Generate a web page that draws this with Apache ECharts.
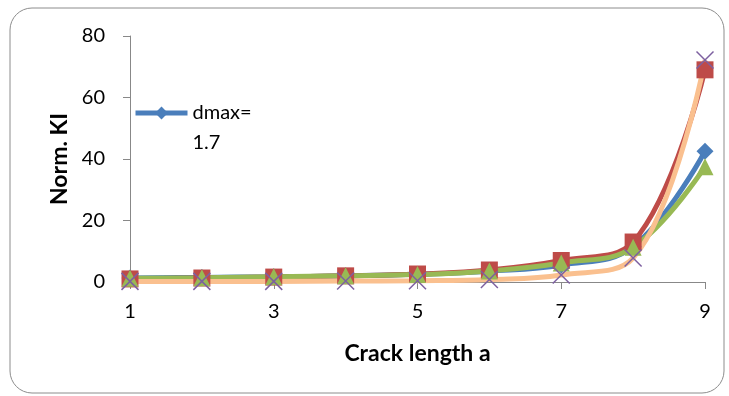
<!DOCTYPE html>
<html><head><meta charset="utf-8">
<script src="https://cdn.jsdelivr.net/npm/echarts@6/dist/echarts.min.js"></script>
<style>html,body{margin:0;padding:0;background:#fff}#c{width:729px;height:396px}</style>
</head><body><div id="c"></div>
<script>
var categories = ['1','2','3','4','5','6','7','8','9'];
var seriesNames = ['dmax=\n1.7', 's2', 's3', 's4'];
var blueValues   = [1.3, 1.5, 1.7, 2.0, 2.5, 3.5, 5.5, 11.5, 42.5];
var redValues    = [1.0, 1.3, 1.6, 2.0, 2.6, 3.9, 7.0, 13.0, 69.0];
var greenValues  = [1.2, 1.4, 1.7, 2.0, 2.4, 3.6, 6.2, 11.3, 37.5];
var orangeValues = [0.2, 0.2, 0.2, 0.3, 0.4, 0.8, 2.3, 7.8, 72.2];
var yTicks = [0, 20, 40, 60, 80];

var font = 'Lato, "Liberation Sans", sans-serif';
var chart = echarts.init(document.getElementById('c'));
var xPath = 'path://M0,0L10,10M10,0L0,10';
chart.setOption({
  animation: false,
  graphic: [{type:'rect', shape:{x:10, y:8, width:714, height:385, r:22}, style:{fill:'none', stroke:'#8c8c8c', lineWidth:1}, silent:true}],
  grid: {left:130, right:24, top:36, bottom:114},
  legend: {
    data: [seriesNames[0]], left: 133, top: 68, padding: 0, itemWidth: 52, itemHeight: 16, itemGap: 5,
    formatter: function(n){ return ' \n' + n; },
    lineStyle: {width: 5},
    textStyle: {fontFamily: font, fontSize: 20, color:'#000', lineHeight: 30}
  },
  xAxis: {
    type:'category', data: categories, boundaryGap:false,
    name:'Crack length a', nameLocation:'middle', nameGap:60,
    nameTextStyle:{fontFamily:font, fontSize:23, fontWeight:'bold', color:'#000'},
    axisLine:{lineStyle:{color:'#888', width:1}},
    axisTick:{interval:1, length:7, lineStyle:{color:'#888'}},
    axisLabel:{interval:1, margin:20, fontFamily:font, fontSize:20, color:'#000'}
  },
  yAxis: {
    type:'value', min:yTicks[0], max:yTicks[yTicks.length-1], interval:20,
    name:'Norm. KI', nameLocation:'middle', nameGap:58,
    nameTextStyle:{fontFamily:font, fontSize:23, fontWeight:'bold', color:'#000'},
    splitLine:{show:false},
    axisLine:{show:true, lineStyle:{color:'#888', width:1}},
    axisTick:{show:true, length:7, lineStyle:{color:'#888'}},
    axisLabel:{margin:25, fontFamily:font, fontSize:20, color:'#000'}
  },
  series: [
    {name:seriesNames[0], type:'line', data:blueValues, smooth:0.4, symbol:'diamond', symbolSize:17,
     lineStyle:{color:'#4A7EBB', width:5}, itemStyle:{color:'#4A7EBB'}},
    {name:seriesNames[1], type:'line', data:redValues, smooth:0.4, symbol:'rect', symbolSize:17,
     lineStyle:{color:'#BE4B48', width:5}, itemStyle:{color:'#BE4B48'}},
    {name:seriesNames[2], type:'line', data:greenValues, smooth:0.4, symbol:'triangle', symbolSize:17,
     lineStyle:{color:'#98B954', width:5}, itemStyle:{color:'#98B954'}},
    {name:seriesNames[3], type:'line', data:orangeValues, smooth:0.4, symbol:xPath, symbolSize:17,
     lineStyle:{color:'#FAC08F', width:5}, itemStyle:{color:'rgba(0,0,0,0)', borderColor:'#7D60A0', borderWidth:1.5}}
  ]
});
</script></body></html>
